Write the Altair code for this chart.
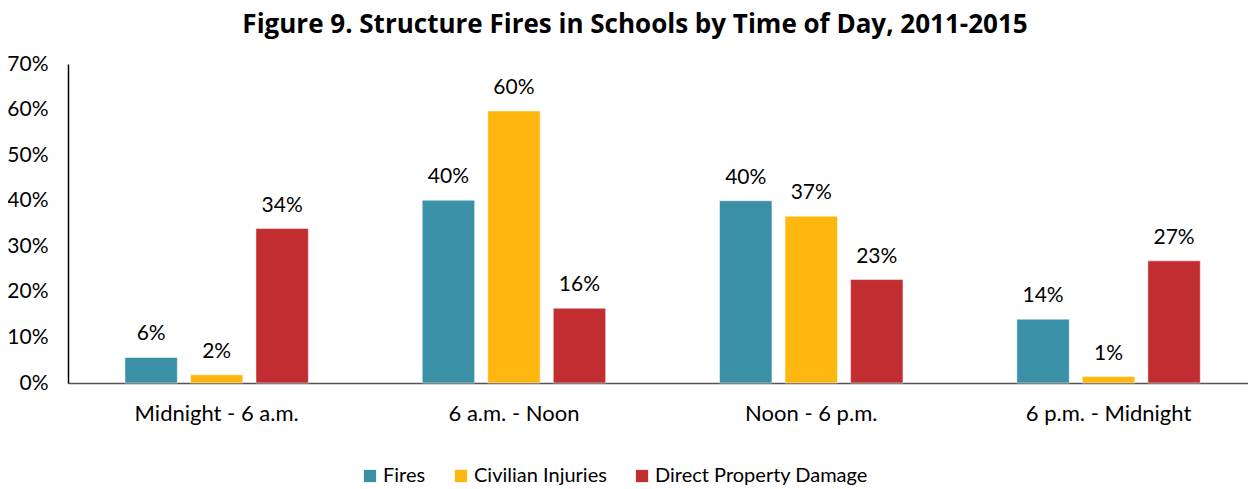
import altair as alt
import pandas as pd

categories = ["Midnight - 6 a.m.", "6 a.m. - Noon", "Noon - 6 p.m.", "6 p.m. - Midnight"]
series = ["Fires", "Civilian Injuries", "Direct Property Damage"]
fires = [0.056, 0.401, 0.400, 0.140]
injuries = [0.018, 0.597, 0.366, 0.014]
damage = [0.339, 0.164, 0.227, 0.268]
colors = ["#3A91A7", "#FDB70F", "#C22D31"]
y_ticks = [0, 0.1, 0.2, 0.3, 0.4, 0.5, 0.6, 0.7]

rows = []
for s, vals in zip(series, [fires, injuries, damage]):
    for c, v in zip(categories, vals):
        rows.append({"period": c, "series": s, "value": v})
df = pd.DataFrame(rows)

FONT = "Lato"

base = alt.Chart(df).encode(
    x=alt.X("period:N", sort=categories, title=None,
            scale=alt.Scale(paddingInner=0.383, paddingOuter=0.176, align=0.544),
            axis=alt.Axis(labelAngle=0, ticks=False, domainColor="#555555", domainWidth=1.5,
                          labelFontSize=22, labelFont=FONT, labelColor="#000000", labelPadding=20)),
    xOffset=alt.XOffset("series:N", sort=series,
                        scale=alt.Scale(paddingInner=0.2, paddingOuter=0)),
    y=alt.Y("value:Q", title=None,
            scale=alt.Scale(domain=[0, 0.7], nice=False),
            axis=alt.Axis(format=".0%", values=y_ticks, ticks=False, grid=False,
                          domainColor="#000000", domainWidth=1.5,
                          labelFontSize=21, labelFont=FONT, labelColor="#000000", labelPadding=20)),
)

bars = base.mark_bar(stroke="white", strokeWidth=0.5).encode(
    color=alt.Color("series:N", sort=series,
                    scale=alt.Scale(domain=series, range=colors),
                    legend=alt.Legend(title=None, orient="none", direction="horizontal",
                                      legendX=292, legendY=402,
                                      symbolType="square", symbolSize=150, symbolStrokeWidth=0,
                                      labelFontSize=20, labelFont=FONT, labelColor="#000000",
                                      labelLimit=0, labelOffset=3, columnPadding=25))
)

labels = base.mark_text(baseline="alphabetic", dy=-17, fontSize=21, font=FONT, color="#000000").encode(
    text=alt.Text("value:Q", format=".0%")
)

chart = alt.layer(bars, labels).properties(
    width=1180, height=319,
    padding={"left": 60, "top": 56, "right": 0, "bottom": 106},
    autosize=alt.AutoSizeParams(type="none"),
    title=alt.TitleParams("Figure 9. Structure Fires in Schools by Time of Day, 2011-2015",
                          font="Open Sans", fontSize=26, fontWeight="bold", color="#000000",
                          anchor="middle", dx=-23, offset=15),
).configure(background="white", view=alt.ViewConfig(stroke=None))

chart.save("out.html", embed_options={"renderer": "svg", "actions": False})
